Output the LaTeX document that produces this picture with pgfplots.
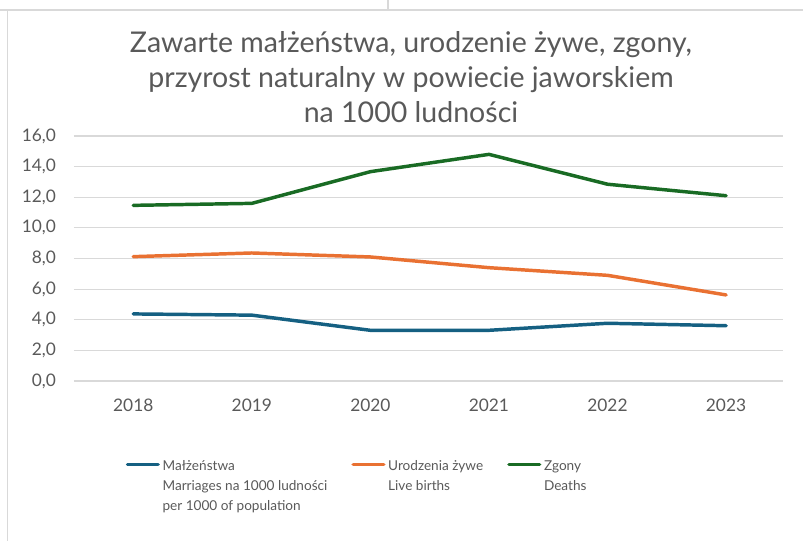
\documentclass[border=0pt]{standalone}
\usepackage{fontspec}
\setmainfont{Lato}
\usepackage{pgfplots}
\pgfplotsset{compat=1.18}
\definecolor{cblue}{HTML}{156082}
\definecolor{corange}{HTML}{E97132}
\definecolor{cgreen}{HTML}{196B24}
\definecolor{txt}{HTML}{595959}
\definecolor{gridc}{HTML}{D9D9D9}

\begin{document}
\begin{tikzpicture}[x=0.75pt,y=0.75pt]
% picture frame: 803 x 541 px, y upwards
\useasboundingbox (0,0) rectangle (803,541);
\draw[gridc, line width=1.5pt] (0,531) -- (803,531);
\draw[gridc, line width=1.2pt] (388,541) -- (388,531);
\draw[gridc, line width=1.2pt] (7.5,531) -- (7.5,0);

\node[txt, font=\fontsize{21.4}{26}\selectfont, align=center, anchor=north]
  at (411,514) {Zawarte małżeństwa, urodzenie żywe, zgony,\\
  przyrost naturalny w powiecie jaworskiem\\ na 1000 ludności};

\begin{axis}[
  at={(55.5pt,120pt)}, anchor=south west,
  scale only axis,
  width=531.75pt, height=183.75pt,
  xmin=2017.5, xmax=2023.48,
  ymin=0, ymax=16,
  xtick={2018,...,2023},
  ytick={0,2,...,16},
  axis line style={draw=none},
  tick style={draw=none},
  ymajorgrids, grid style={gridc, line width=0.9pt},
  every tick label/.append style={txt, font=\fontsize{13}{15}\selectfont},
  xticklabel style={/pgf/number format/1000 sep={}, yshift=-10pt},
  yticklabel style={/pgf/number format/.cd, fixed, fixed zerofill, precision=1, use comma, /tikz/xshift=-10pt},
  /pgf/number format/assume math mode=true,
  clip=false,
  legend columns=3,
  legend cell align=left,
  legend style={
    at={(0.067,-0.29)}, anchor=north west,
    draw=none, fill=none,
    font=\fontsize{10.2}{15}\selectfont, text=txt,
    /tikz/every odd column/.append style={column sep=1pt},
    /tikz/every even column/.append style={column sep=17pt},
    nodes={inner sep=1pt},
  },
  legend image code/.code={\draw[#1, line width=2.6pt, line cap=round] (0pt,0pt) -- (23pt,0pt);},
]
\addplot[cblue, line width=2.6pt, line cap=round, line join=round]
  coordinates {(2018,4.38) (2019,4.30) (2020,3.31) (2021,3.31) (2022,3.77) (2023,3.61)};
\addlegendentry{\begin{tabular}[t]{@{}l@{}}Małżeństwa\\Marriages na 1000 ludności\\per 1000 of population\end{tabular}}
\addplot[corange, line width=2.6pt, line cap=round, line join=round]
  coordinates {(2018,8.12) (2019,8.36) (2020,8.10) (2021,7.40) (2022,6.90) (2023,5.62)};
\addlegendentry{\begin{tabular}[t]{@{}l@{}}Urodzenia żywe\\Live births\end{tabular}}
\addplot[cgreen, line width=2.6pt, line cap=round, line join=round]
  coordinates {(2018,11.47) (2019,11.60) (2020,13.67) (2021,14.80) (2022,12.85) (2023,12.10)};
\addlegendentry{\begin{tabular}[t]{@{}l@{}}Zgony\\Deaths\end{tabular}}
\end{axis}
\end{tikzpicture}
\end{document}
